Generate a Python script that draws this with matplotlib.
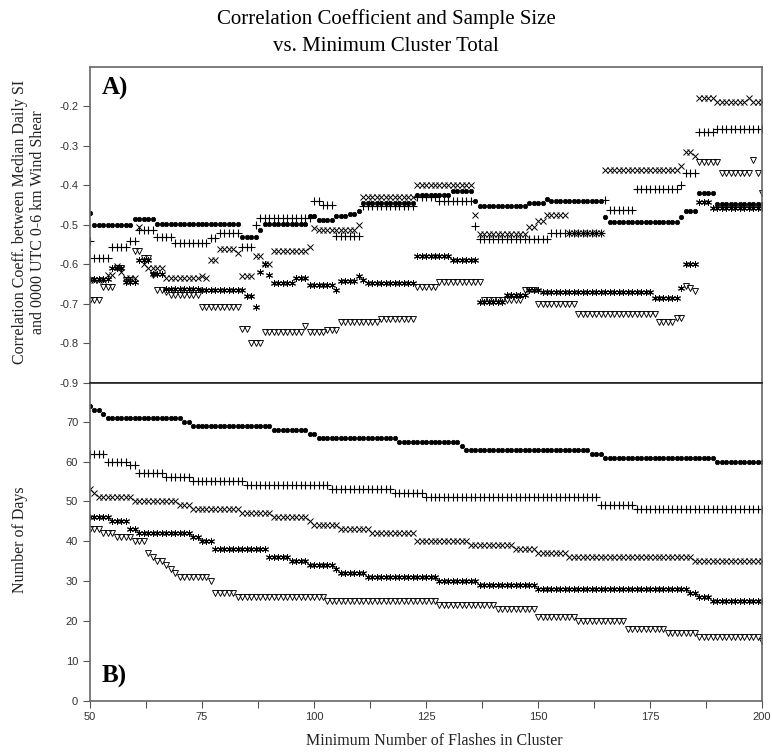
import numpy as np
import matplotlib
matplotlib.use("Agg")
import matplotlib.pyplot as plt

# ---------------- data ----------------
flashes = list(range(50, 201))

# Panel A: correlation coefficient
corr_circle = ([-0.47]*1 + [-0.50]*9 + [-0.486]*5 + [-0.498]*19 + [-0.532]*4 + [-0.512]*1 +
               [-0.498]*10 + [-0.477]*2 + [-0.489]*4 + [-0.478]*3 + [-0.472]*2 + [-0.465]*1 +
               [-0.445]*12 + [-0.424]*8 + [-0.415]*5 + [-0.44]*1 + [-0.453]*11 + [-0.445]*4 +
               [-0.435]*1 + [-0.44]*12 + [-0.479]*1 + [-0.492]*16 + [-0.48]*1 + [-0.466]*3 +
               [-0.42]*4 + [-0.447]*11)
corr_plus = ([-0.542]*1 + [-0.584]*4 + [-0.555]*4 + [-0.542]*2 + [-0.512]*4 + [-0.53]*4 +
             [-0.547]*8 + [-0.534]*2 + [-0.52]*5 + [-0.555]*3 + [-0.50]*1 + [-0.482]*12 +
             [-0.44]*2 + [-0.45]*3 + [-0.528]*6 + [-0.453]*12 + [-0.43]*5 + [-0.44]*8 +
             [-0.502]*1 + [-0.535]*16 + [-0.52]*12 + [-0.437]*1 + [-0.462]*6 + [-0.41]*10 +
             [-0.40]*1 + [-0.369]*3 + [-0.266]*4 + [-0.258]*11)
corr_x = ([-0.64]*4 + [-0.627]*2 + [-0.605]*1 + [-0.62]*1 + [-0.635]*3 + [-0.505]*1 + [-0.60]*1 +
          [-0.61]*4 + [-0.635]*8 + [-0.63]*1 + [-0.635]*1 + [-0.589]*2 + [-0.56]*4 + [-0.572]*1 +
          [-0.63]*3 + [-0.58]*2 + [-0.60]*2 + [-0.565]*8 + [-0.555]*1 + [-0.508]*1 + [-0.514]*9 +
          [-0.50]*1 + [-0.43]*12 + [-0.398]*13 + [-0.476]*1 + [-0.522]*11 + [-0.505]*2 +
          [-0.49]*2 + [-0.476]*5 + [-0.52]*8 + [-0.36]*17 + [-0.35]*1 + [-0.316]*2 +
          [-0.327]*1 + [-0.18]*4 + [-0.19]*7 + [-0.178]*1 + [-0.19]*3)
corr_star = ([-0.636]*5 + [-0.61]*3 + [-0.645]*3 + [-0.59]*3 + [-0.625]*3 + [-0.662]*8 +
             [-0.665]*10 + [-0.68]*2 + [-0.707]*1 + [-0.62]*1 + [-0.60]*1 + [-0.627]*1 +
             [-0.647]*5 + [-0.635]*3 + [-0.652]*6 + [-0.664]*1 + [-0.643]*4 + [-0.63]*1 +
             [-0.64]*1 + [-0.647]*11 + [-0.58]*8 + [-0.589]*6 + [-0.695]*6 + [-0.677]*5 +
             [-0.665]*3 + [-0.671]*25 + [-0.686]*6 + [-0.66]*1 + [-0.60]*3 + [-0.443]*3 +
             [-0.458]*12)
corr_tri = ([-0.69]*3 + [-0.656]*3 + [-0.61]*2 + [-0.64]*2 + [-0.567]*2 + [-0.584]*2 +
            [-0.627]*1 + [-0.665]*2 + [-0.67]*1 + [-0.677]*7 + [-0.707]*9 + [-0.763]*2 +
            [-0.80]*3 + [-0.772]*9 + [-0.757]*1 + [-0.77]*4 + [-0.765]*3 + [-0.745]*9 +
            [-0.737]*8 + [-0.656]*5 + [-0.645]*10 + [-0.69]*9 + [-0.665]*3 + [-0.70]*9 +
            [-0.726]*18 + [-0.745]*4 + [-0.735]*2 + [-0.655]*1 + [-0.66]*1 + [-0.668]*1 +
            [-0.34]*5 + [-0.369]*7 + [-0.335]*1 + [-0.37]*1 + [-0.42]*1)

# Panel B: number of days
days_circle = ([74]*1 + [73]*2 + [72]*1 + [71]*17 + [70]*2 + [69]*18 + [68]*8 + [67]*2 +
               [66]*18 + [65]*14 + [64]*1 + [63]*28 + [62]*3 + [61]*25 + [60]*11)
days_plus = ([62]*4 + [60]*5 + [59]*2 + [57]*6 + [56]*6 + [55]*12 + [54]*19 + [53]*14 +
             [52]*7 + [51]*39 + [49]*8 + [48]*29)
days_x = ([53]*1 + [52]*1 + [51]*8 + [50]*10 + [49]*3 + [48]*11 + [47]*7 + [46]*8 + [45]*1 +
          [44]*6 + [43]*7 + [42]*10 + [40]*12 + [39]*10 + [38]*5 + [37]*7 + [36]*28 + [35]*16)
days_star = ([46]*5 + [45]*4 + [43]*2 + [42]*12 + [41]*2 + [40]*3 + [38]*12 + [36]*5 + [35]*4 +
             [34]*6 + [33]*1 + [32]*6 + [31]*16 + [30]*9 + [29]*13 + [28]*34 + [27]*2 +
             [26]*3 + [25]*12)
days_tri = ([43]*3 + [42]*3 + [41]*4 + [40]*3 + [37]*1 + [36]*1 + [35]*2 + [34]*1 + [33]*1 +
            [32]*1 + [31]*7 + [30]*1 + [27]*5 + [26]*20 + [25]*25 + [24]*13 + [23]*9 +
            [21]*9 + [20]*11 + [18]*9 + [17]*7 + [16]*14 + [15]*1)

x_ticks = [50, 75, 100, 125, 150, 175, 200]
corr_ticks = [-0.9, -0.8, -0.7, -0.6, -0.5, -0.4, -0.3, -0.2]
days_ticks = [0, 10, 20, 30, 40, 50, 60, 70]

# ---------------- styles ----------------
styles = [
    dict(marker='o', ms=3.2, mfc='black', mec='black', mew=0.5),
    dict(marker='+', ms=5.5, mfc='none', mec='black', mew=0.8),
    dict(marker='x', ms=4.0, mfc='none', mec='black', mew=0.7),
    dict(marker=(6, 2, 0), ms=5.0, mfc='none', mec='black', mew=0.7),
    dict(marker='v', ms=5.0, mfc='none', mec='black', mew=0.65),
]

serif = ['Liberation Serif', 'DejaVu Serif']
sans = ['Liberation Sans', 'DejaVu Sans']

fig = plt.figure(figsize=(7.72, 7.53), dpi=100)
ax1 = fig.add_axes([0.1166, 0.4914, 0.8705, 0.4200])
ax2 = fig.add_axes([0.1166, 0.0695, 0.8705, 0.4219])

for s, y in zip(styles, [corr_circle, corr_plus, corr_x, corr_star, corr_tri]):
    ax1.plot(flashes, y, linestyle='none', **s)
for s, y in zip(styles, [days_circle, days_plus, days_x, days_star, days_tri]):
    ax2.plot(flashes, y, linestyle='none', **s)

spine_col = '#666666'
for ax in (ax1, ax2):
    ax.set_xlim(50, 200)
    for sp in ax.spines.values():
        sp.set_color(spine_col)
        sp.set_linewidth(1.2)
    ax.tick_params(axis='both', direction='out', length=5, width=0.8,
                   color='#555555', labelsize=8, labelcolor='#333333')

ax1.spines['bottom'].set_color('#222222')
ax2.spines['top'].set_color('#222222')

ax1.set_ylim(-0.9, -0.1)
ax1.set_yticks(corr_ticks)
ax1.set_yticklabels([f"{t:.1f}" for t in corr_ticks], family=sans)
ax1.tick_params(axis='x', bottom=False, labelbottom=False)

ax2.set_ylim(0, 79.7)
ax2.set_yticks(days_ticks)
ax2.set_yticklabels([str(t) for t in days_ticks], family=sans)
minor = [v + 12.5 for v in x_ticks[:-1]]
ax2.set_xticks(x_ticks)
ax2.set_xticklabels([str(t) for t in x_ticks], family=sans)
ax2.set_xticks(minor, minor=True)
ax2.tick_params(axis='x', which='minor', direction='out', length=5, width=0.8, color='#555555')

ax1.text(0.018, 0.93, 'A)', transform=ax1.transAxes, fontsize=18, fontweight='bold',
         family=serif, va='center', ha='left')
ax2.text(0.018, 0.075, 'B)', transform=ax2.transAxes, fontsize=18, fontweight='bold',
         family=serif, va='center', ha='left')

fig.text(0.5, 0.988, 'Correlation Coefficient and Sample Size\nvs. Minimum Cluster Total',
         ha='center', va='top', fontsize=15, family=serif, linespacing=1.6)
fig.text(0.038, 0.705, 'Correlation Coeff. between Median Daily SI\nand 0000 UTC 0-6 km Wind Shear',
         rotation=90, ha='center', va='center', fontsize=11.5, family=serif, color='#222222',
         linespacing=1.15)
fig.text(0.026, 0.283, 'Number of Days', rotation=90, ha='center', va='center',
         fontsize=11.5, family=serif, color='#222222')
fig.text(0.563, 0.016, 'Minimum Number of Flashes in Cluster', ha='center', va='center',
         fontsize=11.5, family=serif, color='#222222')

fig.savefig('out.png', dpi=100)
